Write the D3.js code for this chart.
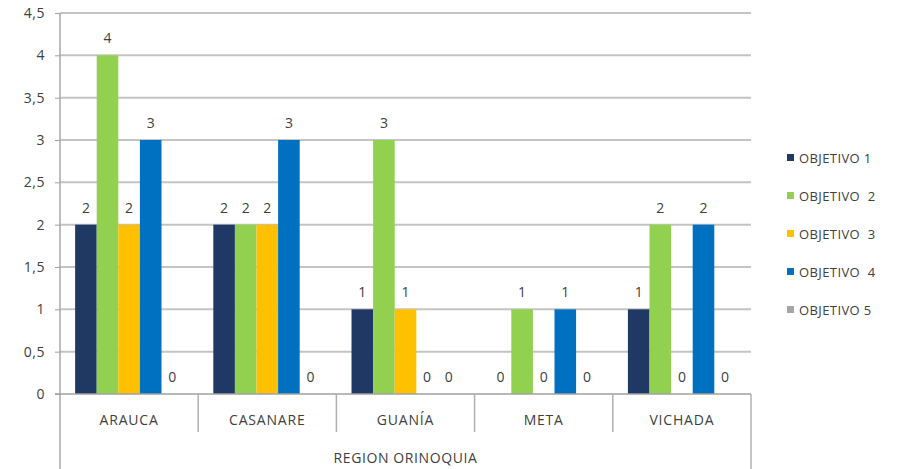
<!DOCTYPE html>
<html><head><meta charset="utf-8">
<script src="https://cdn.jsdelivr.net/npm/d3@7"></script>
<style>body{margin:0;background:#fff;} text{font-family:"Open Sans","Liberation Sans",sans-serif;}</style>
</head><body>
<svg id="c" width="897" height="469"></svg>
<script>
const categories = ["ARAUCA","CASANARE","GUANÍA","META","VICHADA"];
const seriesNames = ["OBJETIVO 1","OBJETIVO  2","OBJETIVO  3","OBJETIVO  4","OBJETIVO 5"];
const objetivo1 = [2,2,1,0,1];
const objetivo2 = [4,2,3,1,2];
const objetivo3 = [2,2,1,0,0];
const objetivo4 = [3,3,0,1,2];
const objetivo5 = [0,0,0,0,0];
const seriesColors = ["#1f3864","#92d050","#ffc000","#0070c0","#a6a6a6"];
const yTicks = [0,0.5,1,1.5,2,2.5,3,3.5,4,4.5];
const groupTitle = "REGION ORINOQUIA";

const series = [objetivo1,objetivo2,objetivo3,objetivo4,objetivo5];
const svg = d3.select("#c");
const L=60, R=751, T=13, B=394;
const x0 = d3.scaleBand().domain(categories).range([L,R]).paddingInner(0).paddingOuter(0);
const x1 = d3.scaleBand().domain(d3.range(5)).range([0,x0.bandwidth()]).paddingInner(0).paddingOuter(0.7);
const y = d3.scaleLinear().domain([0,4.5]).range([B,T]);
const fmt = d => String(d).replace(".",",");

// gridlines
svg.append("g").selectAll("line").data(yTicks.filter(d=>d>0)).join("line")
  .attr("x1",L).attr("x2",R).attr("y1",d=>y(d)).attr("y2",d=>y(d))
  .attr("stroke","#c4c4c4").attr("stroke-width",2);

// y axis
const yAxis = d3.axisLeft(y).tickValues(yTicks).tickFormat(fmt).tickSize(5).tickPadding(10);
const gy = svg.append("g").attr("transform",`translate(${L},0)`).call(yAxis);
gy.select(".domain").remove();
gy.selectAll(".tick line").attr("stroke","#a0a0a0");
gy.selectAll("text").attr("fill","#404040").style("font-size","14px").style("letter-spacing","0.5px");
svg.append("line").attr("x1",L).attr("x2",L).attr("y1",T).attr("y2",469).attr("stroke","#a6a6a6").attr("stroke-width",1.5);

// bars
const g = svg.append("g");
categories.forEach((c,ci)=>{
  series.forEach((s,si)=>{
    const v = s[ci];
    const bx = x0(c)+x1(si);
    if (v>0) g.append("rect").attr("x",bx).attr("y",y(v)).attr("width",x1.bandwidth()).attr("height",B-y(v)).attr("fill",seriesColors[si]);
    g.append("text").attr("x",bx+x1.bandwidth()/2).attr("y",y(v)-12).attr("text-anchor","middle")
      .attr("fill","#404040").style("font-size","14px").text(v);
  });
});

// x axis
svg.append("line").attr("x1",L-5).attr("x2",R).attr("y1",B).attr("y2",B).attr("stroke","#a0a0a0").attr("stroke-width",1.5);
const dividers = categories.map(c=>x0(c)).slice(1);
svg.append("g").selectAll("line").data(dividers).join("line")
  .attr("x1",d=>d).attr("x2",d=>d).attr("y1",B).attr("y2",432).attr("stroke","#b0b0b0").attr("stroke-width",1.5);
svg.append("line").attr("x1",R).attr("x2",R).attr("y1",B).attr("y2",469).attr("stroke","#b0b0b0").attr("stroke-width",1.5);
svg.append("g").selectAll("text").data(categories).join("text")
  .attr("x",d=>x0(d)+x0.bandwidth()/2).attr("y",425).attr("text-anchor","middle")
  .attr("fill","#404040").style("font-size","14px").style("letter-spacing","0.8px").text(d=>d);
svg.append("text").attr("x",(L+R)/2).attr("y",463).attr("text-anchor","middle")
  .attr("fill","#404040").style("font-size","14px").style("letter-spacing","0.6px").text(groupTitle);

// legend
const leg = svg.append("g");
seriesNames.forEach((n,i)=>{
  const ly = 158 + i*38;
  leg.append("rect").attr("x",787).attr("y",ly-4).attr("width",7).attr("height",7).attr("fill",seriesColors[i]);
  leg.append("text").attr("x",799).attr("y",ly+5).attr("fill","#404040").style("font-size","13px").style("letter-spacing","0.4px")
    .attr("xml:space","preserve").style("white-space","pre").text(n);
});
</script>
</body></html>
